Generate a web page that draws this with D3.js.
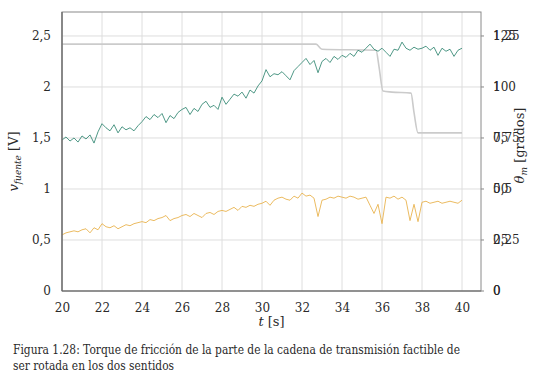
<!DOCTYPE html>
<html>
<head>
<meta charset="utf-8">
<script src="https://cdn.jsdelivr.net/npm/d3@7"></script>
<style>
  body { margin: 0; background: #fff; }
  svg text { fill: #2a2a2a; }
</style>
</head>
<body>
<div id="chart"></div>
<script>
// time axis, sampled every 0.2 s from 20 to 40
const tValues = d3.range(0, 101).map(i => 20 + i * 0.2);

// v_fuente [V] (green)
const vFuente = [
  1.48, 1.51, 1.47, 1.50, 1.46, 1.52, 1.49, 1.53, 1.45, 1.56,
  1.64, 1.60, 1.57, 1.63, 1.55, 1.61, 1.58, 1.60, 1.57, 1.62,
  1.66, 1.71, 1.68, 1.73, 1.70, 1.74, 1.65, 1.72, 1.69, 1.75,
  1.78, 1.80, 1.73, 1.79, 1.76, 1.83, 1.86, 1.80, 1.82, 1.78,
  1.90, 1.83, 1.88, 1.93, 1.91, 1.95, 1.89, 1.97, 1.94, 2.01,
  2.06, 2.17, 2.10, 2.13, 2.12, 2.15, 2.11, 2.07, 2.16, 2.20,
  2.24, 2.28, 2.22, 2.26, 2.14, 2.25, 2.28, 2.24, 2.30, 2.27,
  2.31, 2.29, 2.33, 2.30, 2.36, 2.34, 2.38, 2.42, 2.37, 2.35,
  2.38, 2.34, 2.30, 2.37, 2.36, 2.44, 2.38, 2.36, 2.39, 2.37,
  2.38, 2.40, 2.36, 2.39, 2.31, 2.38, 2.35, 2.37, 2.30, 2.36,
  2.38
];

// second signal read on the left axis (orange)
const vTorque = [
  0.55, 0.57, 0.58, 0.59, 0.58, 0.60, 0.61, 0.57, 0.62, 0.60,
  0.66, 0.63, 0.62, 0.64, 0.61, 0.63, 0.65, 0.64, 0.66, 0.67,
  0.68, 0.67, 0.70, 0.69, 0.71, 0.72, 0.74, 0.69, 0.71, 0.72,
  0.74, 0.75, 0.73, 0.76, 0.74, 0.72, 0.76, 0.77, 0.75, 0.78,
  0.79, 0.78, 0.80, 0.82, 0.79, 0.83, 0.82, 0.84, 0.83, 0.85,
  0.86, 0.88, 0.84, 0.89, 0.91, 0.92, 0.90, 0.89, 0.93, 0.91,
  0.96, 0.93, 0.94, 0.91, 0.73, 0.89, 0.90, 0.92, 0.91, 0.93,
  0.92, 0.91, 0.93, 0.92, 0.90, 0.91, 0.92, 0.84, 0.76, 0.85,
  0.66, 0.92, 0.91, 0.93, 0.90, 0.92, 0.89, 0.69, 0.85, 0.68,
  0.87, 0.88, 0.86, 0.87, 0.88, 0.86, 0.87, 0.88, 0.87, 0.86,
  0.89
];

// theta_m [grados] (gray), read at its breakpoints
const thetaT = [20, 32.7, 33.0, 35.7, 35.85, 36.05, 36.5, 37.45, 37.6, 37.8, 40];
const thetaM = [121, 121, 118.5, 118, 110, 98, 97.5, 97, 87.5, 77.5, 77.5];

const xTicks = d3.range(20, 41, 2);
const yTicksLeft = [0, 0.5, 1, 1.5, 2, 2.5];
const yTicksRightA = [0, 0.25, 0.5, 0.75, 1, 1.25];
const yTicksRightB = [0, 25, 50, 75, 100, 125];

const width = 540, height = 384;
const margin = { top: 12, right: 59, bottom: 93, left: 62 };
const innerW = width - margin.left - margin.right;
const innerH = height - margin.top - margin.bottom;

const serif = "DejaVu Serif";
const comma = d => String(d).replace(".", ",");

const svg = d3.select("#chart").append("svg")
  .attr("width", width)
  .attr("height", height);

const g = svg.append("g")
  .attr("transform", `translate(${margin.left},${margin.top})`);

const x = d3.scaleLinear().domain([20, 40.95]).range([0, innerW]);
const y = d3.scaleLinear().domain([0, 2.735]).range([innerH, 0]);
const yA = d3.scaleLinear().domain([0, 1.3675]).range([innerH, 0]);
const yB = d3.scaleLinear().domain([0, 136.75]).range([innerH, 0]);

// grid
g.append("g")
  .selectAll("line")
  .data(xTicks)
  .join("line")
  .attr("x1", d => x(d)).attr("x2", d => x(d))
  .attr("y1", 0).attr("y2", innerH)
  .attr("stroke", "#dedede");

g.append("g")
  .selectAll("line")
  .data(yTicksLeft)
  .join("line")
  .attr("x1", 0).attr("x2", innerW)
  .attr("y1", d => y(d)).attr("y2", d => y(d))
  .attr("stroke", "#dedede");

// lines
const line = d3.line().x((d, i) => x(tValues[i])).y(d => y(d));

g.append("path")
  .datum(thetaM)
  .attr("fill", "none")
  .attr("stroke", "#cbcbcb")
  .attr("stroke-width", 1.6)
  .attr("d", d3.line().curve(d3.curveMonotoneX)
    .x((d, i) => x(thetaT[i])).y(d => yB(d)));

g.append("path")
  .datum(vTorque)
  .attr("fill", "none")
  .attr("stroke", "#e9b34f")
  .attr("stroke-width", 0.9)
  .attr("d", line);

g.append("path")
  .datum(vFuente)
  .attr("fill", "none")
  .attr("stroke", "#3b8c78")
  .attr("stroke-width", 0.9)
  .attr("d", line);

// axes
const styleAxis = sel => {
  sel.attr("font-family", serif).attr("font-size", 12);
  sel.select(".domain").remove();
  sel.selectAll(".tick line").remove();
  sel.selectAll("text").attr("fill", "#2a2a2a");
};

g.append("g")
  .attr("transform", `translate(0,${innerH})`)
  .call(d3.axisBottom(x).tickValues(xTicks).tickFormat(d => d).tickPadding(6))
  .call(styleAxis);

g.append("g")
  .call(d3.axisLeft(y).tickValues(yTicksLeft).tickFormat(comma).tickPadding(5))
  .call(styleAxis);

g.append("g")
  .attr("transform", `translate(${innerW},0)`)
  .call(d3.axisRight(yA).tickValues(yTicksRightA).tickFormat(comma).tickPadding(6))
  .call(styleAxis);

g.append("g")
  .attr("transform", `translate(${innerW},0)`)
  .call(d3.axisRight(yB).tickValues(yTicksRightB).tickFormat(d => d).tickPadding(6))
  .call(styleAxis);

// small outward ticks on the right
g.append("g")
  .selectAll("line")
  .data(yTicksRightB)
  .join("line")
  .attr("x1", innerW).attr("x2", innerW + 3)
  .attr("y1", d => yB(d)).attr("y2", d => yB(d))
  .attr("stroke", "#888");

// frame
g.append("rect")
  .attr("width", innerW).attr("height", innerH)
  .attr("fill", "none")
  .attr("stroke", "#8a8a8a")
  .attr("stroke-width", 1);
g.append("line")
  .attr("x1", 0).attr("x2", 0).attr("y1", 0).attr("y2", innerH)
  .attr("stroke", "#666").attr("stroke-width", 1.2);
g.append("line")
  .attr("x1", 0).attr("x2", innerW).attr("y1", innerH).attr("y2", innerH)
  .attr("stroke", "#666").attr("stroke-width", 1.2);

// labels
const xl = g.append("text")
  .attr("x", innerW / 2)
  .attr("y", innerH + 35)
  .attr("text-anchor", "middle")
  .attr("font-family", serif)
  .attr("font-size", 13);
xl.append("tspan").attr("font-style", "italic").text("t");
xl.append("tspan").text(" [s]");

const yl = g.append("text")
  .attr("transform", `translate(${-44},${innerH / 2 + 10}) rotate(-90)`)
  .attr("text-anchor", "middle")
  .attr("font-family", serif)
  .attr("font-size", 13);
yl.append("tspan").attr("font-style", "italic").text("v");
yl.append("tspan").attr("font-style", "italic").attr("font-size", 9).attr("dy", 3).text("fuente");
yl.append("tspan").attr("dy", -3).text(" [V]");

const rl = g.append("text")
  .attr("transform", `translate(${innerW + 43},${innerH / 2 - 6}) rotate(-90)`)
  .attr("text-anchor", "middle")
  .attr("font-family", serif)
  .attr("font-size", 13);
rl.append("tspan").attr("font-style", "italic").text("θ");
rl.append("tspan").attr("font-style", "italic").attr("font-size", 9).attr("dy", 3).text("m");
rl.append("tspan").attr("dy", -3).text(" [grados]");

// caption
const caption = [
  "Figura 1.28: Torque de fricción de la parte de la cadena de transmisión factible de",
  "ser rotada en los dos sentidos"
];
svg.append("g")
  .selectAll("text")
  .data(caption)
  .join("text")
  .attr("x", 13)
  .attr("y", (d, i) => 354 + i * 16)
  .attr("font-family", serif)
  .attr("font-size", 12)
  .attr("textLength", (d, i) => i === 0 ? 447 : 161)
  .attr("lengthAdjust", "spacingAndGlyphs")
  .text(d => d);
</script>
</body>
</html>
